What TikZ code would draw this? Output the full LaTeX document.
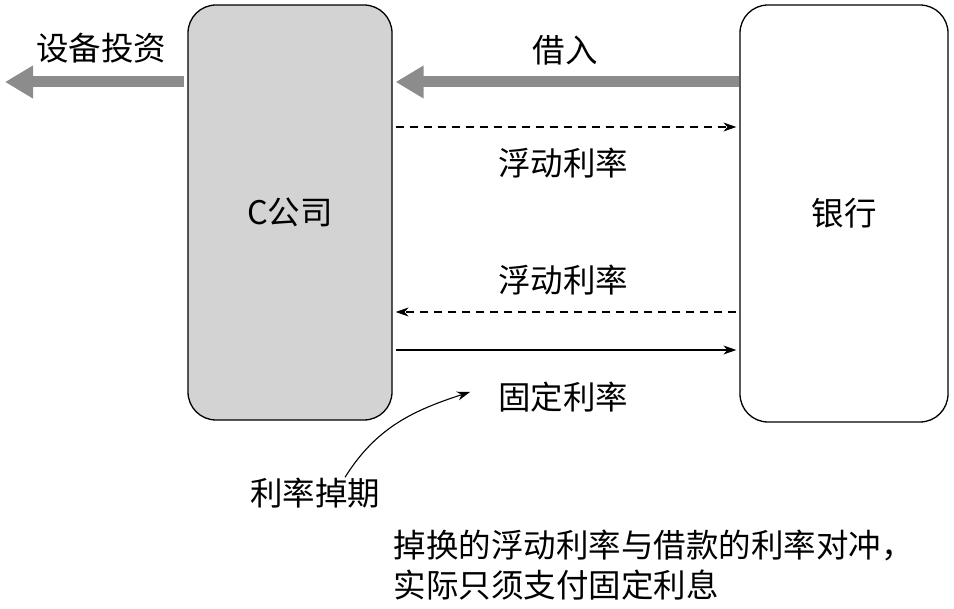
\documentclass[tikz,border=0pt]{standalone}
\usepackage{fontspec}
\newfontfamily\cjk{Noto Sans CJK SC}
\usetikzlibrary{arrows,arrows.meta,positioning}
\definecolor{boxgray}{RGB}{211,211,211}
\definecolor{flowgray}{RGB}{140,140,140}

\begin{document}
\begin{tikzpicture}[x=1pt,y=-1pt,>={Stealth[length=13pt,width=9pt]},
  every node/.style={font=\cjk\fontsize{32.5}{40}\selectfont},
  party/.style={draw,rounded corners=28pt,line width=1.3pt,minimum width=204pt,minimum height=415pt},
  flow/.style={line width=11pt,draw=flowgray,-{Triangle[length=28pt,width=31pt]}},
  rate/.style={line width=1.1pt,->,shorten >=3pt,shorten <=3pt},
  dashrate/.style={rate,dash pattern=on 8pt off 6pt}]

  \useasboundingbox (0,0) rectangle (954,609);

  \node[party,fill=boxgray] (firm) at (290,212.5) {C公司};
  \node[party,minimum width=208pt,minimum height=417pt] (bank) at (844,213.5) {银行};

  % row heights of the connectors
  \coordinate (rowA) at (0,82);
  \coordinate (rowB) at (0,127);
  \coordinate (rowC) at (0,312);
  \coordinate (rowD) at (0,350);
  \coordinate (invest) at (5,82);

  \draw[flow,shorten >=3pt] (bank.west |- rowA) -- (firm.east |- rowA);
  \draw[flow,shorten <=3pt] (firm.west |- rowA) -- (invest);
  \node (loan) at (565,50) {借入};
  \node (equip) at (101,48) {设备投资};

  \draw[dashrate] (firm.east |- rowB) -- (bank.west |- rowB);
  \node (float1) at (563,163) {浮动利率};
  \draw[dashrate] (bank.west |- rowC) -- (firm.east |- rowC);
  \node (float2) at (563,280) {浮动利率};
  \draw[rate] (firm.east |- rowD) -- (bank.west |- rowD);
  \node (fixed) at (563,397) {固定利率};

  \node (swap) at (315,493) {利率掉期};
  \coordinate (swaptip) at (470,392);
  \draw[line width=1.1pt,->] ([xshift=30pt,yshift=-3pt]swap.north) to[out=58,in=198] (swaptip);

  \node[anchor=west,align=left] (note) at (390,565) {掉换的浮动利率与借款的利率对冲，\\实际只须支付固定利息};
\end{tikzpicture}
\end{document}
